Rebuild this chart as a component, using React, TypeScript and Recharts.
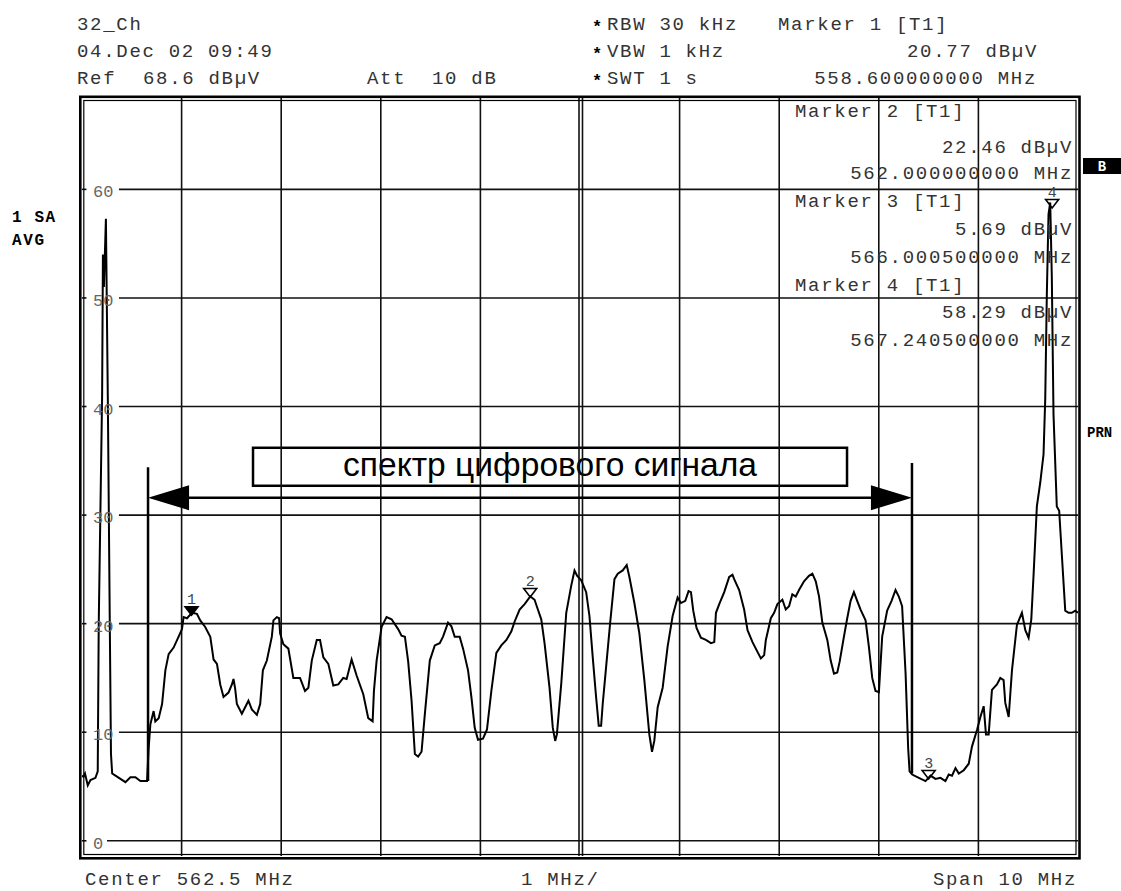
import React from "react";
import { ComposedChart, Line, Scatter, XAxis, YAxis, ReferenceLine, ReferenceArea } from "recharts";

// spectrum trace: [frequency MHz, level dBµV]
const trace: [number, number][] = [
  [557.5, 6.0], [557.515, 5.9], [557.53, 6.2], [557.558, 5.1], [557.585, 5.6], [557.635, 5.8],
  [557.658, 6.4], [557.668, 20.0], [557.702, 41.0], [557.71, 54.0], [557.72, 51.0], [557.74, 57.3],
  [557.759, 41.0], [557.779, 20.0], [557.791, 8.0], [557.803, 6.2], [557.836, 6.0], [557.886, 5.7],
  [557.936, 5.4], [557.986, 5.85], [558.036, 5.85], [558.086, 5.5], [558.153, 5.5], [558.169, 8.5],
  [558.186, 10.7], [558.219, 11.95], [558.236, 11.0], [558.27, 11.3], [558.304, 12.6], [558.337, 15.7],
  [558.37, 17.2], [558.42, 17.8], [558.47, 18.8], [558.504, 19.5], [558.52, 20.6], [558.554, 20.5],
  [558.604, 21.0], [558.654, 20.9], [558.687, 20.3], [558.737, 19.7], [558.788, 18.8], [558.821, 16.7],
  [558.855, 16.3], [558.888, 14.4], [558.921, 13.25], [558.971, 13.65], [559.005, 14.4], [559.021, 14.9],
  [559.038, 14.0], [559.055, 12.6], [559.105, 11.7], [559.138, 12.3], [559.171, 12.9], [559.205, 12.1],
  [559.256, 11.6], [559.289, 12.6], [559.316, 15.7], [559.356, 16.6], [559.406, 18.8], [559.422, 20.3],
  [559.456, 20.6], [559.479, 20.5], [559.489, 19.1], [559.522, 18.1], [559.572, 17.7], [559.622, 15.0],
  [559.689, 15.0], [559.739, 13.8], [559.773, 14.1], [559.807, 16.6], [559.857, 18.5], [559.89, 18.5],
  [559.923, 16.9], [559.973, 16.3], [560.023, 14.3], [560.073, 14.4], [560.123, 15.0], [560.157, 14.9],
  [560.207, 16.7], [560.258, 15.2], [560.324, 13.5], [560.374, 11.3], [560.418, 11.0], [560.431, 13.8],
  [560.458, 16.6], [560.508, 19.7], [560.558, 20.6], [560.608, 20.4], [560.674, 19.5], [560.708, 18.9],
  [560.742, 18.8], [560.775, 16.5], [560.809, 12.9], [560.842, 8.0], [560.875, 7.75], [560.909, 8.2],
  [560.942, 11.65], [560.992, 16.6], [561.042, 18.0], [561.092, 18.2], [561.125, 18.8], [561.175, 20.1],
  [561.209, 19.75], [561.242, 18.8], [561.292, 18.8], [561.326, 17.7], [561.376, 15.7], [561.41, 13.2],
  [561.443, 10.4], [561.476, 9.3], [561.526, 9.4], [561.566, 10.25], [561.61, 13.8], [561.66, 17.3],
  [561.71, 18.0], [561.761, 18.5], [561.811, 19.3], [561.844, 20.2], [561.894, 21.3], [561.944, 21.8],
  [562.001, 22.5], [562.044, 22.2], [562.077, 21.3], [562.111, 20.4], [562.144, 18.2], [562.194, 14.1],
  [562.227, 10.4], [562.251, 9.2], [562.268, 9.8], [562.312, 14.5], [562.362, 21.0], [562.412, 23.5],
  [562.445, 24.9], [562.472, 24.4], [562.512, 24.0], [562.562, 22.9], [562.595, 20.7], [562.628, 16.9],
  [562.662, 13.2], [562.688, 10.6], [562.712, 10.6], [562.728, 12.6], [562.762, 16.0], [562.803, 20.1],
  [562.846, 24.1], [562.879, 24.6], [562.929, 24.9], [562.969, 25.4], [562.996, 24.3], [563.046, 21.9],
  [563.096, 19.1], [563.146, 14.8], [563.196, 9.8], [563.223, 8.2], [563.246, 9.2], [563.28, 12.3],
  [563.33, 14.1], [563.38, 17.9], [563.43, 20.7], [563.48, 22.4], [563.514, 21.9], [563.557, 22.1],
  [563.59, 23.0], [563.614, 22.9], [563.637, 21.2], [563.67, 19.6], [563.714, 18.7], [563.764, 18.5],
  [563.815, 18.2], [563.848, 18.3], [563.865, 21.0], [563.898, 21.8], [563.948, 22.9], [563.998, 24.3],
  [564.031, 24.5], [564.048, 24.1], [564.098, 23.1], [564.148, 21.3], [564.182, 19.4], [564.232, 18.3],
  [564.282, 17.4], [564.316, 16.8], [564.349, 17.1], [564.366, 18.5], [564.416, 20.5], [564.449, 21.0],
  [564.482, 21.8], [564.532, 22.2], [564.566, 21.3], [564.599, 21.6], [564.632, 22.7], [564.666, 22.5],
  [564.699, 23.1], [564.749, 23.9], [564.799, 24.4], [564.833, 24.6], [564.867, 23.9], [564.9, 22.5],
  [564.933, 20.1], [564.983, 18.5], [565.017, 16.6], [565.05, 15.4], [565.083, 15.5], [565.107, 16.5],
  [565.15, 18.8], [565.183, 20.5], [565.217, 22.1], [565.25, 22.9], [565.283, 22.1], [565.317, 21.3],
  [565.367, 20.3], [565.4, 17.9], [565.434, 15.0], [565.467, 13.8], [565.501, 13.7], [565.534, 18.8],
  [565.584, 21.2], [565.628, 22.1], [565.668, 23.1], [565.701, 22.5], [565.734, 21.6], [565.769, 15.4],
  [565.795, 8.5], [565.809, 6.4], [565.835, 6.1], [565.902, 5.8], [565.969, 5.5], [566.019, 6.0],
  [566.069, 5.7], [566.119, 5.8], [566.169, 5.5], [566.202, 6.1], [566.235, 6.0], [566.27, 6.7],
  [566.303, 6.2], [566.353, 6.5], [566.403, 7.1], [566.436, 8.7], [566.486, 10.2], [566.52, 11.4],
  [566.553, 12.4], [566.576, 9.8], [566.603, 9.8], [566.636, 13.9], [566.686, 14.4], [566.72, 15.0],
  [566.753, 14.8], [566.77, 12.7], [566.804, 11.4], [566.837, 15.7], [566.887, 19.9], [566.937, 21.0],
  [566.971, 19.4], [567.004, 18.7], [567.031, 20.4], [567.054, 24.5], [567.087, 30.8], [567.121, 33.0],
  [567.154, 35.6], [567.171, 40.7], [567.187, 50.3], [567.204, 57.7], [567.221, 58.8], [567.237, 52.0],
  [567.254, 39.3], [567.287, 30.8], [567.311, 30.4], [567.338, 26.3], [567.372, 21.2], [567.405, 21.0],
  [567.438, 21.0], [567.472, 21.2], [567.5, 21.0],
];

const gridFreqs = [558.5, 559.5, 560.5, 561.5, 563.5, 564.5, 565.5, 566.5];
const centerFreqs = [562.49, 562.525];
const levelTicks = [0, 10, 20, 30, 40, 50, 60];

const markerIds = ["1", "2", "3", "4"];
const markerFreqs = [558.6, 562.0, 566.0005, 567.2405];
const markerLevels = [20.77, 22.46, 5.69, 58.29];

const bandEdges = [558.163, 565.833];
const bandTops = [34.4, 34.8];
const bandBottoms = [5.5, 6.2];
const arrowLevel = 31.6;
const boxFreqs = [559.217, 565.181];
const boxLevels = [32.7, 36.2];
const boxText = "спектр цифрового сигнала";

const data = trace.map(([f, v]) => ({ f, v }));
const markers = markerIds.map((id, i) => ({ id, f: markerFreqs[i], v: markerLevels[i] }));

const mono = "'Liberation Mono', 'DejaVu Sans Mono', monospace";
const ink = "#111";

const LevelTick = (p: any) => (
  <text x={p.x} y={p.y + 8} fontFamily={mono} fontSize={17} fill="#666">
    {p.payload.value}
  </text>
);

const MarkerShape = (p: any) => {
  const { cx, cy, payload } = p;
  const filled = payload.id === "1";
  return (
    <g>
      <polygon
        points={`${cx - 6.5},${cy - 8.5} ${cx + 6.5},${cy - 8.5} ${cx},${cy}`}
        fill={filled ? "#000" : "none"}
        stroke="#000"
        strokeWidth={1.6}
      />
      <text x={cx} y={cy - 11} textAnchor="middle" fontFamily={mono} fontSize={15} fill="#444">
        {payload.id}
      </text>
    </g>
  );
};

const ArrowShape = (p: any) => {
  const { x1, y1, x2, y2 } = p;
  const len = 41;
  const half = 12.5;
  return (
    <g>
      <line x1={x1 + len - 2} y1={y1} x2={x2 - len + 2} y2={y2} stroke="#000" strokeWidth={2.5} />
      <polygon points={`${x1},${y1} ${x1 + len},${y1 - half} ${x1 + len},${y1 + half}`} fill="#000" />
      <polygon points={`${x2},${y2} ${x2 - len},${y2 - half} ${x2 - len},${y2 + half}`} fill="#000" />
    </g>
  );
};

const BoxShape = (p: any) => {
  const { x, y, width, height } = p;
  return (
    <g>
      <rect x={x} y={y} width={width} height={height} fill="#fff" stroke="#000" strokeWidth={2.5} />
      <text
        x={x + width / 2}
        y={y + 28}
        textAnchor="middle"
        fontFamily="'Liberation Sans', Arial, sans-serif"
        fontSize={34}
        textLength={414}
        lengthAdjust="spacingAndGlyphs"
        fill="#000"
      >
        {boxText}
      </text>
    </g>
  );
};

const T = ({ x, y, children, anchor = "start" }: any) => (
  <text x={x} y={y} textAnchor={anchor} fontFamily={mono} fontSize={19} letterSpacing={1.7} fill="#333">
    {children}
  </text>
);

export default function App() {
  return (
    <div style={{ position: "absolute", left: 0, top: 0, width: 1121, height: 891, background: "#fff" }}>
      <ComposedChart
        width={1121}
        height={891}
        data={data}
        margin={{ top: 96, right: 43, bottom: 35, left: 82 }}
      >
        <XAxis type="number" dataKey="f" domain={[557.5, 567.5]} hide allowDataOverflow />
        <YAxis
          type="number"
          domain={[-1.4, 68.6]}
          ticks={levelTicks}
          mirror
          tickSize={0}
          tickMargin={11}
          tickLine={false}
          axisLine={false}
          tick={LevelTick}
          allowDataOverflow
        />
        {gridFreqs.concat(centerFreqs).map((f) => (
          <ReferenceLine key={`v${f}`} x={f} stroke={ink} strokeWidth={1.6} />
        ))}
        {levelTicks.map((L) => (
          <ReferenceLine
            key={`a${L}`}
            segment={[{ x: 557.5, y: L }, { x: 557.545, y: L }]}
            stroke={ink}
            strokeWidth={1.6}
          />
        ))}
        {levelTicks.map((L) => (
          <ReferenceLine
            key={`b${L}`}
            segment={[{ x: L === 0 ? 557.751 : 557.871, y: L }, { x: 567.5, y: L }]}
            stroke={ink}
            strokeWidth={1.6}
          />
        ))}
        {bandEdges.map((f, i) => (
          <ReferenceLine
            key={`e${f}`}
            segment={[{ x: f, y: bandTops[i] }, { x: f, y: bandBottoms[i] }]}
            stroke="#000"
            strokeWidth={2.5}
          />
        ))}
        <ReferenceLine
          segment={[{ x: bandEdges[0], y: arrowLevel }, { x: bandEdges[1], y: arrowLevel }]}
          shape={ArrowShape}
        />
        <ReferenceArea
          x1={boxFreqs[0]}
          x2={boxFreqs[1]}
          y1={boxLevels[0]}
          y2={boxLevels[1]}
          shape={BoxShape}
        />
        <Line
          dataKey="v"
          type="linear"
          stroke="#000"
          strokeWidth={2}
          dot={false}
          isAnimationActive={false}
        />
        <Scatter data={markers} dataKey="v" shape={MarkerShape} isAnimationActive={false} />
      </ComposedChart>

      <svg
        width={1121}
        height={891}
        style={{ position: "absolute", left: 0, top: 0, pointerEvents: "none" }}
      >
        <rect x={80.3} y={96.8} width={999.2} height={761.5} fill="none" stroke="#000" strokeWidth={2.6} />
        <rect x={83.8} y={100.5} width={992.2} height={754} fill="none" stroke="#000" strokeWidth={1.2} />

        <T x={77} y={30}>32_Ch</T>
        <T x={77} y={57}>04.Dec 02 09:49</T>
        <T x={77} y={84}>Ref</T>
        <T x={143} y={84}>68.6 dBµV</T>
        <T x={367} y={84}>Att</T>
        <T x={432} y={84}>10 dB</T>

        <text x={592} y={32} fontFamily={mono} fontSize={17} fontWeight="bold" fill="#000">*</text>
        <text x={592} y={59} fontFamily={mono} fontSize={17} fontWeight="bold" fill="#000">*</text>
        <text x={592} y={86} fontFamily={mono} fontSize={17} fontWeight="bold" fill="#000">*</text>
        <T x={607} y={30}>RBW 30 kHz</T>
        <T x={607} y={57}>VBW 1 kHz</T>
        <T x={607} y={84}>SWT 1 s</T>
        <T x={778} y={30}>Marker 1 [T1]</T>
        <T x={1038} y={57} anchor="end">20.77 dBµV</T>
        <T x={1037} y={84} anchor="end">558.600000000 MHz</T>

        <T x={795} y={117}>Marker 2 [T1]</T>
        <T x={1073} y={153} anchor="end">22.46 dBµV</T>
        <T x={1073} y={179} anchor="end">562.000000000 MHz</T>
        <T x={795} y={207}>Marker 3 [T1]</T>
        <T x={1073} y={235} anchor="end">5.69 dBµV</T>
        <T x={1073} y={263} anchor="end">566.000500000 MHz</T>
        <T x={795} y={291}>Marker 4 [T1]</T>
        <T x={1073} y={318} anchor="end">58.29 dBµV</T>
        <T x={1073} y={346} anchor="end">567.240500000 MHz</T>

        <T x={85} y={885}>Center 562.5 MHz</T>
        <T x={521} y={885}>1 MHz/</T>
        <T x={1077} y={885} anchor="end">Span 10 MHz</T>

        <text x={12} y={222} fontFamily={mono} fontSize={16} fontWeight="bold" letterSpacing={1.6} fill="#000">1 SA</text>
        <text x={12} y={245} fontFamily={mono} fontSize={16} fontWeight="bold" letterSpacing={1.6} fill="#000">AVG</text>
        <rect x={1083} y={158} width={38} height={16} fill="#000" />
        <text x={1102} y={171} textAnchor="middle" fontFamily={mono} fontSize={14} fontWeight="bold" fill="#fff">B</text>
        <text x={1087} y={437} fontFamily={mono} fontSize={14} fontWeight="bold" fill="#000">PRN</text>
      </svg>
    </div>
  );
}
